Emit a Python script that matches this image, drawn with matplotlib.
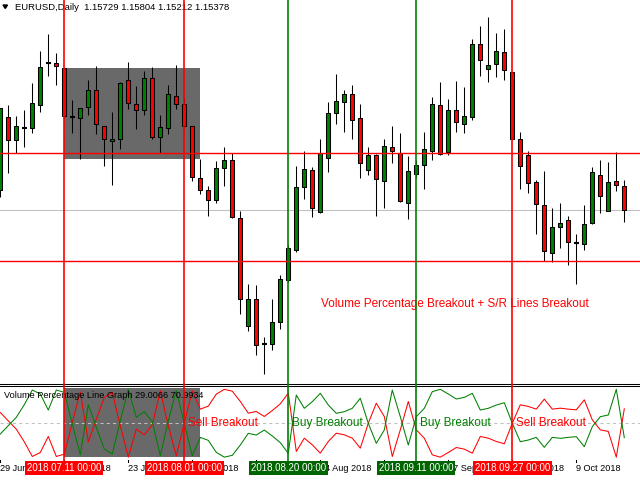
import matplotlib
matplotlib.use("Agg")
import matplotlib.pyplot as plt
from matplotlib.patches import Rectangle, Polygon
from matplotlib.lines import Line2D
from matplotlib.transforms import blended_transform_factory

plt.rcParams['font.family'] = ['Liberation Sans', 'DejaVu Sans']

# EURUSD daily bars, 29 Jun 2018 .. 17 Oct 2018
opens = [1.1567, 1.1671, 1.1638, 1.1655, 1.1655, 1.1687, 1.1748, 1.1747, 1.1740, 1.1670,
         1.1669, 1.1685, 1.1709, 1.1658, 1.1636, 1.1639, 1.1723, 1.1689, 1.1680, 1.1726,
         1.1642, 1.1655, 1.1701, 1.1689, 1.1658, 1.1584, 1.1567, 1.1552, 1.1598, 1.1610,
         1.1527, 1.1374, 1.1412, 1.1348, 1.1348, 1.1379, 1.1439, 1.1482, 1.1571, 1.1595,
         1.1535, 1.1613, 1.1676, 1.1692, 1.1704, 1.1669, 1.1595, 1.1617, 1.1579, 1.1628,
         1.1620, 1.1549, 1.1589, 1.1603, 1.1623, 1.1687, 1.1621, 1.1680, 1.1660, 1.1670,
         1.1774, 1.1739, 1.1746, 1.1763, 1.1735, 1.1639, 1.1616, 1.1578, 1.1546, 1.1478,
         1.1514, 1.1524, 1.1492, 1.1490, 1.1520, 1.1588, 1.1537, 1.1579, 1.15729]
highs = [1.1683, 1.1688, 1.1672, 1.1681, 1.1719, 1.1764, 1.1789, 1.1761, 1.1740, 1.1695,
         1.1684, 1.1723, 1.1743, 1.1658, 1.1678, 1.1721, 1.1749, 1.1715, 1.1736, 1.1742,
         1.1674, 1.1716, 1.1745, 1.1698, 1.1658, 1.1611, 1.1572, 1.1608, 1.1628, 1.1619,
         1.1537, 1.1434, 1.1432, 1.1358, 1.1412, 1.1446, 1.1489, 1.1601, 1.1622, 1.1600,
         1.1639, 1.1692, 1.1732, 1.1709, 1.1716, 1.1689, 1.1628, 1.1618, 1.1639, 1.1658,
         1.1648, 1.1615, 1.1610, 1.1649, 1.1699, 1.1720, 1.1696, 1.1722, 1.1713, 1.1781,
         1.1800, 1.1813, 1.1790, 1.1796, 1.1735, 1.1650, 1.1623, 1.1581, 1.1594, 1.1542,
         1.1549, 1.1530, 1.1504, 1.1546, 1.1599, 1.1610, 1.1607, 1.1621, 1.15804]
lows = [1.1557, 1.1591, 1.1620, 1.1628, 1.1648, 1.1678, 1.1729, 1.1716, 1.1671, 1.1648,
        1.1611, 1.1674, 1.1647, 1.1601, 1.1574, 1.1625, 1.1682, 1.1653, 1.1674, 1.1639,
        1.1620, 1.1647, 1.1682, 1.1655, 1.1580, 1.1561, 1.1530, 1.1549, 1.1573, 1.1527,
        1.1390, 1.1367, 1.1333, 1.1305, 1.1339, 1.1369, 1.1436, 1.1479, 1.1554, 1.1529,
        1.1534, 1.1593, 1.1661, 1.1650, 1.1640, 1.1584, 1.1588, 1.1530, 1.1542, 1.1605,
        1.1550, 1.1526, 1.1584, 1.1569, 1.1610, 1.1616, 1.1617, 1.1650, 1.1648, 1.1667,
        1.1729, 1.1721, 1.1727, 1.1723, 1.1639, 1.1568, 1.1563, 1.1504, 1.1466, 1.1464,
        1.1485, 1.1461, 1.1434, 1.1482, 1.1518, 1.1534, 1.1537, 1.1566, 1.15212]
closes = [1.1683, 1.1638, 1.1658, 1.1655, 1.1690, 1.1741, 1.1748, 1.1743, 1.1672, 1.1670,
          1.1684, 1.1709, 1.1660, 1.1639, 1.1640, 1.1719, 1.1690, 1.1680, 1.1726, 1.1642,
          1.1656, 1.1703, 1.1689, 1.1658, 1.1585, 1.1567, 1.1552, 1.1598, 1.1610, 1.1528,
          1.1412, 1.1412, 1.1346, 1.1348, 1.1379, 1.1440, 1.1484, 1.1571, 1.1597, 1.1542,
          1.1620, 1.1677, 1.1693, 1.1704, 1.1666, 1.1605, 1.1617, 1.1582, 1.1629, 1.1623,
          1.1551, 1.1594, 1.1603, 1.1625, 1.1689, 1.1618, 1.1680, 1.1664, 1.1672, 1.1774,
          1.1751, 1.1744, 1.1764, 1.1738, 1.1640, 1.1601, 1.1577, 1.1547, 1.1480, 1.1514,
          1.1520, 1.1493, 1.1492, 1.1518, 1.1593, 1.1558, 1.1578, 1.1574, 1.15378]

# buy volume percentage (green); sell (red) is the rest
buy_pct = [34.3, 46.5, 58.6, 77.1, 98.5, 92.7, 69.3, 98.5, 95.1, 48.9,
           4.1, 77.1, 44.0, 12.4, 5.1, 53.8, 99.5, 58.6, 66.9, 52.3,
           2.7, 53.8, 97.6, 49.9, 2.7, 29.4, 25.0, 7.5, 0.5, 3.2,
           18.2, 35.3, 32.8, 40.1, 31.4, 21.7, 6.1, 91.2, 71.8, 81.5,
           93.7, 76.6, 64.5, 66.9, 71.8, 86.4, 49.9, 20.7, 40.1, 98.5,
           59.6, 18.2, 59.6, 71.8, 96.1, 99.5, 92.7, 85.4, 87.8, 93.7,
           69.3, 71.8, 76.6, 80.0, 49.9, 23.1, 25.5, 29.4, 14.8, 29.4,
           28.0, 29.4, 30.4, 15.8, 45.0, 59.6, 62.0, 99.5, 29.0066]
sell_pct = [100 - v for v in buy_pct]

# time scale (labels fully covered by the line date boxes are left empty)
tick_bars = [0, 8, 16, 24, 32, 40, 48, 56, 64, 72]
tick_labels = ["29 Jun 2018", "11 Jul 2018", "23 Jul 2018", "2 Aug 2018", "",
               "24 Aug 2018", "", "17 Sep 2018", "27 Sep 2018", "9 Oct 2018"]

vline_bars = [8, 23, 36, 52, 64]
vline_dates = ["2018.07.11 00:00", "2018.08.01 00:00", "2018.08.20 00:00",
               "2018.09.11 00:00", "2018.09.27 00:00"]
vline_side = ["sell", "sell", "buy", "buy", "sell"]

signal_bars = [23, 36, 52, 64]
signal_text = ["Sell Breakout", "Buy Breakout", "Buy Breakout", "Sell Breakout"]

sr_levels = [1.1619, 1.1466]
bid = 1.15378
box_bars = (8, 25)
box_prices = (1.1611, 1.1740)
box_pct = (0.3, 101.5)

RED = '#ff0000'
GREEN = '#008000'
side_col = {"sell": RED, "buy": GREEN}
box_col = {"sell": RED, "buy": '#006400'}

fig = plt.figure(figsize=(6.4, 4.8), dpi=100)
ax = fig.add_axes([0, 96 / 480, 1, 384 / 480])
ax2 = fig.add_axes([0, 20 / 480, 1, 74.5 / 480])
xl = (-0.0375, 79.9625)

for a in (ax, ax2):
    a.set_xlim(*xl)
    a.set_xticks([])
    a.set_yticks([])
    for s in a.spines.values():
        s.set_visible(False)
ax.spines['bottom'].set_visible(True)
ax.spines['bottom'].set_linewidth(0.75)
ax2.spines['top'].set_visible(True)
ax2.spines['top'].set_linewidth(0.75)

# main chart
ax.set_ylim(1.12912, 1.18369)
ax.add_patch(Rectangle((box_bars[0], box_prices[0]), box_bars[1] - box_bars[0],
                       box_prices[1] - box_prices[0], facecolor='#696969',
                       edgecolor='none', zorder=0.5))
ax.axhline(bid, color='#c0c0c0', lw=0.75, zorder=1)

for i in range(len(opens)):
    o, h, l, c = opens[i], highs[i], lows[i], closes[i]
    ax.vlines(i, l, h, color='black', lw=0.75, zorder=2)
    if o == c:
        ax.hlines(o, i - 0.3, i + 0.3, color='black', lw=1.5, zorder=3)
    else:
        col = GREEN if c > o else RED
        ax.add_patch(Rectangle((i - 0.25, min(o, c)), 0.5, abs(c - o),
                               facecolor=col, edgecolor='black', lw=0.75, zorder=3))

for lv in sr_levels:
    ax.axhline(lv, color=RED, lw=1.0, zorder=4)

ax.text(40.1, 1.1405, "Volume Percentage Breakout + S/R Lines Breakout",
        color=RED, fontsize=8.5, ha='left', va='center', zorder=6)

# indicator window
ax2.set_ylim(-3.65, 105.1)
ax2.add_patch(Rectangle((box_bars[0], box_pct[0]), box_bars[1] - box_bars[0],
                        box_pct[1] - box_pct[0], facecolor='#696969',
                        edgecolor='none', zorder=0.5))
ax2.axhline(50, color='#c0c0c0', lw=0.75, dashes=(3, 3), zorder=1)
x = list(range(len(buy_pct)))
ax2.plot(x, sell_pct, color=RED, lw=0.75, zorder=2)
ax2.plot(x, buy_pct, color=GREEN, lw=0.75, zorder=2)
for b, t in zip(signal_bars, signal_text):
    col = RED if t.startswith("Sell") else GREEN
    ax2.text(b + 0.5, 50, t, color=col, fontsize=8.5, ha='left', va='center', zorder=5)

fig.text(4 / 640, 1 - 395 / 480, "Volume Percentage Line Graph 29.0066 70.9934",
         fontsize=6.6, color='black', va='center', ha='left')

# header
fig.add_artist(Polygon([[3 / 640, 1 - 5 / 480], [7.5 / 640, 1 - 5 / 480],
                        [5.25 / 640, 1 - 8.5 / 480]], closed=True,
                       transform=fig.transFigure, color='black'))
fig.text(15 / 640, 1 - 7 / 480, "EURUSD,Daily  1.15729 1.15804 1.15212 1.15378",
         fontsize=6.8, color='black', va='center', ha='left')

# time scale
tr = blended_transform_factory(ax2.transData, fig.transFigure)
ylab = 1 - 468.3 / 480
for b, lab in zip(tick_bars, tick_labels):
    fig.add_artist(Line2D([b, b], [1 - 459.5 / 480, 1 - 462 / 480], transform=tr,
                          color='black', lw=0.75))
    if lab:
        fig.text(b, ylab, lab, transform=tr, fontsize=6.6, ha='left', va='center',
                 color='black', zorder=3)

for b, d, s in zip(vline_bars, vline_dates, vline_side):
    fig.add_artist(Line2D([b, b], [1.0, 1 - 461 / 480], transform=tr,
                          color=side_col[s], lw=1.2, zorder=8))
    fig.text(b, ylab, d, transform=tr, fontsize=7, ha='center', va='center',
             color='white', zorder=9,
             bbox=dict(boxstyle='square,pad=0.2', facecolor=box_col[s], edgecolor='none'))

fig.savefig("out.png", dpi=100)
